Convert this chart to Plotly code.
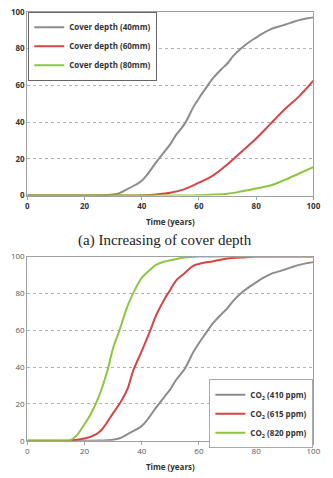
import plotly.graph_objects as go

# Top chart: cover depth
t_gray = [0, 5, 10, 15, 20, 25, 28, 30, 32, 35, 38, 40, 42, 45, 48, 50, 52, 55, 58, 60, 62, 65, 68, 70, 72, 75, 78, 80, 82, 85, 88, 90, 92, 95, 98, 100]
v_gray = [0, 0, 0, 0, 0, 0.1, 0.3, 0.6, 1.2, 3.5, 6, 8, 11.5, 18, 24, 28, 33, 39, 48, 53, 57.5, 64, 69, 72, 76, 80.5, 84, 86, 88, 90.5, 92, 93, 94, 95.5, 96.5, 97]
t_red = [0, 10, 20, 30, 38, 40, 45, 50, 55, 60, 65, 70, 75, 80, 85, 90, 95, 100]
v_red = [0, 0, 0, 0, 0, 0.1, 0.6, 1.5, 3.5, 7, 11, 17, 24, 31, 39, 47, 54, 62.5]
t_green = [0, 10, 20, 30, 40, 50, 58, 60, 65, 70, 75, 80, 85, 90, 95, 100]
v_green = [0, 0, 0, 0, 0, 0, 0, 0.2, 0.5, 1, 2.3, 3.8, 5.5, 8.5, 12, 15.5]

# Bottom chart: CO2 concentration
t_615 = [0, 5, 10, 15, 20, 24, 26, 30, 33, 35, 37, 40, 43, 45, 48, 50, 52, 55, 58, 60, 65, 70, 75, 80, 90, 100]
v_615 = [0, 0, 0, 0.2, 1.2, 3.5, 6, 15, 22, 28, 38, 48.7, 60, 68, 77, 82, 87, 91, 95, 96, 97.5, 99, 99.5, 100, 100, 100]
t_820 = [0, 5, 10, 15, 17, 20, 22, 25, 28, 30, 32, 35, 37, 40, 43, 45, 48, 50, 55, 60, 70, 80, 90, 100]
v_820 = [0, 0, 0, 0.3, 2.5, 9, 14, 24, 38, 50.4, 59, 73, 80, 88.5, 93, 95.5, 97.3, 98, 99.5, 100, 100, 100, 100, 100]

top_names = ["Cover depth (40mm)", "Cover depth (60mm)", "Cover depth (80mm)"]
bot_names = ["CO<sub>2</sub> (410 ppm)", "CO<sub>2</sub> (615 ppm)", "CO<sub>2</sub> (820 ppm)"]
caption = "(a) Increasing of cover depth"
x_ticks = [0, 20, 40, 60, 80, 100]
y_ticks = [0, 20, 40, 60, 80, 100]

GRAY = "#8c8c8c"
RED = "#d64545"
GREEN = "#8cc540"

fig = go.Figure()
top_series = [(t_gray, v_gray, GRAY), (t_red, v_red, RED), (t_green, v_green, GREEN)]
for (t, v, c), n in zip(top_series, top_names):
    fig.add_trace(go.Scatter(x=t, y=v, mode="lines", name=n, line=dict(color=c, width=2, shape="spline"),
                             xaxis="x", yaxis="y", legend="legend"))
bot_series = [(t_gray, v_gray, GRAY), (t_615, v_615, RED), (t_820, v_820, GREEN)]
for (t, v, c), n in zip(bot_series, bot_names):
    fig.add_trace(go.Scatter(x=t, y=v, mode="lines", name=n, line=dict(color=c, width=2, shape="spline"),
                             xaxis="x2", yaxis="y2", legend="legend2"))

xd = [26 / 333, 320 / 333]
top_dom = [1 - 194 / 478, 1 - 6 / 478]
bot_dom = [1 - 445 / 478, 1 - 256.5 / 478]

def xax(dom_anchor, bold):
    return dict(domain=xd, anchor=dom_anchor, range=[0, 100], tickvals=x_ticks, showgrid=False,
                zeroline=False, showline=True, linecolor="#a0a0a0", linewidth=1, mirror=True,
                ticks="outside", ticklen=3, tickcolor="#a0a0a0",
                tickfont=dict(family="Open Sans", size=8, color="#333" if bold else "#555",
                              weight="bold" if bold else "normal"),
                title=dict(text="<b>Time (years)</b>", font=dict(family="Open Sans", size=8, color="#333"),
                           standoff=9))

def yax(dom, anchor, bold):
    return dict(domain=dom, anchor=anchor, range=[0, 100], tickvals=y_ticks, showgrid=True,
                gridcolor="#b0b0b0", griddash="dot", gridwidth=1, zeroline=False,
                showline=True, linecolor="#a0a0a0", linewidth=1, mirror=True, ticks="",
                tickfont=dict(family="Open Sans", size=8, color="#333" if bold else "#555",
                              weight="bold" if bold else "normal"))

fig.update_layout(
    width=333, height=478, margin=dict(l=0, r=0, t=0, b=0),
    paper_bgcolor="white", plot_bgcolor="white",
    xaxis=xax("y", True), yaxis=yax(top_dom, "x", True),
    xaxis2=xax("y2", False), yaxis2=yax(bot_dom, "x2", False),
    legend=dict(x=27 / 333, y=1 - 6 / 478, xanchor="left", yanchor="top", bgcolor="white",
                bordercolor="#666", borderwidth=1, itemwidth=30,
                font=dict(family="Open Sans", size=8, color="#333", weight="bold")),
    legend2=dict(x=320 / 333, y=1 - 382 / 478, xanchor="right", yanchor="top", bgcolor="white",
                 bordercolor="#aaa", borderwidth=1, itemwidth=30,
                 font=dict(family="Open Sans", size=8, color="#333", weight="bold")),
    annotations=[dict(text=caption, x=168 / 333, y=1 - 240 / 478, xref="paper", yref="paper",
                      showarrow=False, font=dict(family="Liberation Serif", size=15, color="#222"))],
)

fig.write_html("out.html")
